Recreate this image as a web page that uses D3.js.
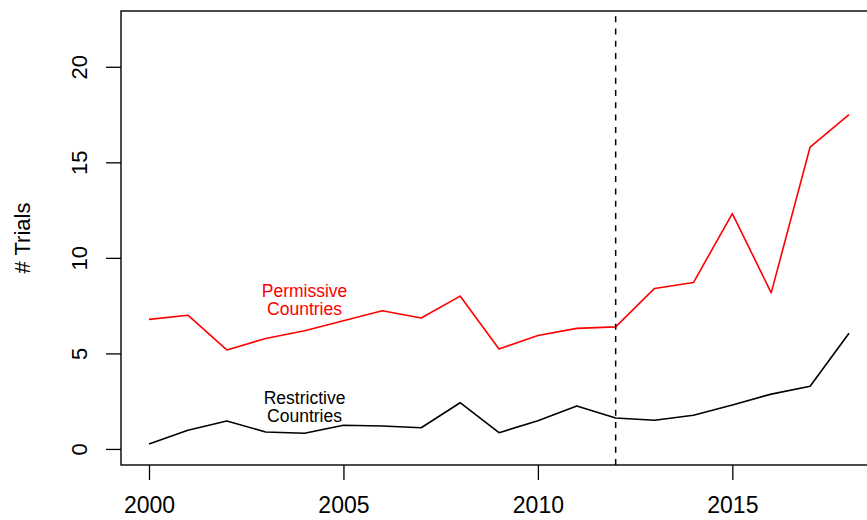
<!DOCTYPE html>
<html>
<head>
<meta charset="utf-8">
<script src="https://cdn.jsdelivr.net/npm/d3@7"></script>
<style>
  html, body { margin: 0; padding: 0; background: #fff; }
  svg { display: block; }
  text { font-family: "Liberation Sans", Arial, Helvetica, sans-serif; }
</style>
</head>
<body>
<svg id="chart" width="867" height="520"></svg>
<script>
// Trials per year, 2000–2018
const years = d3.range(2000, 2019);
const permissive = [6.78, 7.0, 5.18, 5.78, 6.19, 6.71, 7.23, 6.85, 8.0, 5.23, 5.94, 6.31, 6.39, 8.4, 8.71, 12.32, 8.17, 15.8, 17.5];
const restrictive = [0.26, 0.98, 1.46, 0.89, 0.82, 1.24, 1.2, 1.11, 2.42, 0.85, 1.48, 2.25, 1.62, 1.5, 1.76, 2.3, 2.87, 3.28, 6.05];

const xTicks = [2000, 2005, 2010, 2015];
const yTicks = [0, 5, 10, 15, 20];
const policyYear = 2012;

// Series labels: [line 1, line 2], anchor year, anchor value, colour
const seriesLabels = [
  { lines: ["Permissive", "Countries"], year: 2004, value: 7.8, color: "#ff0000" },
  { lines: ["Restrictive", "Countries"], year: 2004, value: 2.2, color: "#000000" }
];

const svg = d3.select("#chart");
const plotL = 121, plotR = 877, plotT = 11, plotB = 465;

const x = d3.scaleLinear().domain([1999.28, 2018.72]).range([plotL, plotR]);
const y = d3.scaleLinear().domain([-0.84, 22.92]).range([plotB, plotT]);

// Plot frame (right edge runs past the canvas)
svg.append("rect")
  .attr("x", plotL).attr("y", plotT)
  .attr("width", plotR - plotL).attr("height", plotB - plotT)
  .attr("fill", "none").attr("stroke", "#000").attr("stroke-width", 1.4);

// Axes
const xAxis = d3.axisBottom(x).tickValues(xTicks).tickFormat(d3.format("d"))
  .tickSize(15).tickPadding(17);
const gx = svg.append("g").attr("transform", `translate(0,${plotB})`).call(xAxis);
gx.select(".domain").remove();
gx.selectAll("line").attr("stroke", "#000").attr("stroke-width", 1.3);
gx.selectAll("text").attr("font-size", 23).attr("fill", "#000");

const yAxis = d3.axisLeft(y).tickValues(yTicks).tickSize(15);
const gy = svg.append("g").attr("transform", `translate(${plotL},0)`).call(yAxis);
gy.select(".domain").remove();
gy.selectAll("line").attr("stroke", "#000").attr("stroke-width", 1.3);
gy.selectAll("text")
  .attr("font-size", 22).attr("fill", "#000")
  .attr("x", null).attr("dy", null)
  .attr("text-anchor", "middle")
  .attr("transform", `translate(${86.5 - plotL},0) rotate(-90)`);

// Y axis title
svg.append("text")
  .attr("transform", `translate(30,${(plotT + plotB) / 2}) rotate(-90)`)
  .attr("text-anchor", "middle")
  .attr("font-size", 22)
  .text("# Trials");

// Series lines
const line = d3.line().x((d, i) => x(years[i])).y(d => y(d));
svg.append("path").datum(permissive)
  .attr("d", line).attr("fill", "none")
  .attr("stroke", "#ff0000").attr("stroke-width", 1.6).attr("stroke-linejoin", "round");
svg.append("path").datum(restrictive)
  .attr("d", line).attr("fill", "none")
  .attr("stroke", "#000").attr("stroke-width", 1.6).attr("stroke-linejoin", "round");

// Policy change marker
svg.append("line")
  .attr("x1", x(policyYear)).attr("x2", x(policyYear))
  .attr("y1", plotB).attr("y2", plotT)
  .attr("stroke", "#000").attr("stroke-width", 1.5)
  .attr("stroke-dasharray", "6,6.3");

// Series labels
seriesLabels.forEach(lab => {
  const cy = y(lab.value);
  const t = svg.append("text")
    .attr("text-anchor", "middle")
    .attr("font-size", 17.5)
    .attr("fill", lab.color);
  lab.lines.forEach((s, i) => {
    t.append("tspan")
      .attr("x", x(lab.year))
      .attr("y", cy - 3.2 + i * 18.3)
      .text(s);
  });
});
</script>
</body>
</html>
